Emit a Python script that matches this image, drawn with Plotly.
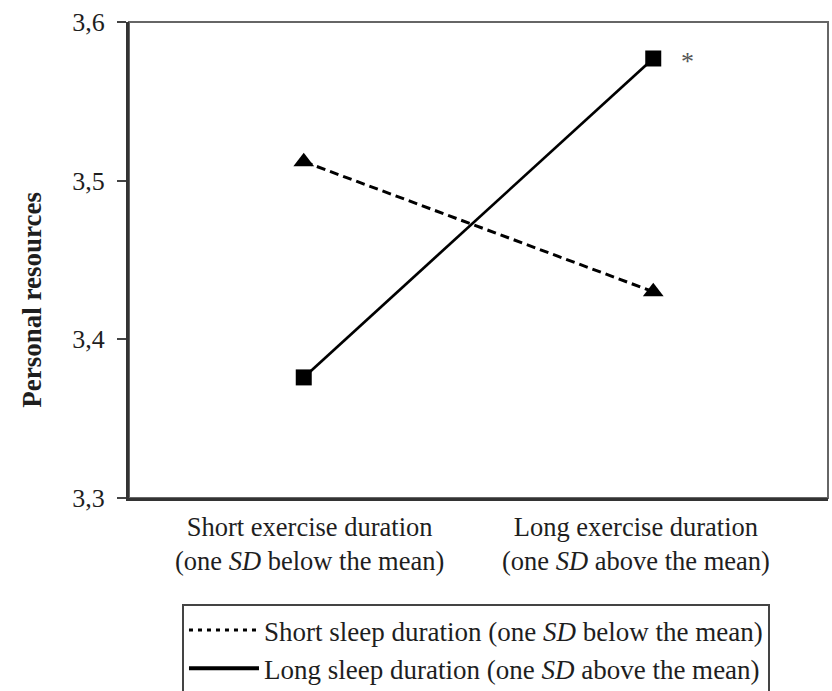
import plotly.graph_objects as go

# Exercise duration levels (x axis) and predicted personal resources per sleep group
exercise_levels = ["Short exercise duration", "Long exercise duration"]
exercise_labels = [
    "Short exercise duration<br>(one <i>SD</i> below the mean)",
    "Long exercise duration<br>(one <i>SD</i> above the mean)",
]
short_sleep = [3.512, 3.430]
long_sleep = [3.376, 3.577]
series_names = [
    "Short sleep duration (one <i>SD</i> below the mean)",
    "Long sleep duration (one <i>SD</i> above the mean)",
]
y_ticks = [3.3, 3.4, 3.5, 3.6]

FONT = "Liberation Serif, Times New Roman, serif"
INK = "#1e1e1e"

fig = go.Figure()

# Plotted lines with markers
fig.add_trace(go.Scatter(
    x=exercise_levels, y=short_sleep, mode="lines+markers",
    line=dict(color="black", width=3, dash="9px,5px"),
    marker=dict(symbol="triangle-up", size=18, color="black"),
    showlegend=False,
))
fig.add_trace(go.Scatter(
    x=exercise_levels, y=long_sleep, mode="lines+markers",
    line=dict(color="black", width=2.7),
    marker=dict(symbol="square", size=16, color="black"),
    showlegend=False,
))

# Legend entries (line samples only)
fig.add_trace(go.Scatter(
    x=[None], y=[None], mode="lines", name=series_names[0],
    line=dict(color="black", width=3, dash="4px,5px"),
))
fig.add_trace(go.Scatter(
    x=[None], y=[None], mode="lines", name=series_names[1],
    line=dict(color="black", width=4),
))

annotations = []
# Category labels under the x axis
for cat, lab, shift in zip(exercise_levels, exercise_labels, [6, -17]):
    annotations.append(dict(
        x=cat, xref="x", y=0, yref="paper", yanchor="top", yshift=-12,
        xshift=shift, text=lab, showarrow=False, align="center",
        font=dict(family=FONT, size=26.5, color=INK),
    ))
# Significance marker next to the long-exercise / long-sleep point
annotations.append(dict(
    x=exercise_levels[1], xref="x", y=long_sleep[1], yref="y",
    xshift=34, yshift=-3, text="*", showarrow=False,
    font=dict(family=FONT, size=26, color="#555"),
))
# Y axis title
annotations.append(dict(
    x=-0.139, xref="paper", y=0.416, yref="paper", textangle=-90,
    xanchor="center", yanchor="middle",
    text="<b>Personal resources</b>", showarrow=False,
    font=dict(family=FONT, size=27, color=INK),
))

fig.update_layout(
    width=832, height=691,
    margin=dict(l=129, r=4, t=22, b=193, autoexpand=False),
    paper_bgcolor="white", plot_bgcolor="white",
    separators=",.",
    font=dict(family=FONT, size=26, color=INK),
    xaxis=dict(
        type="category", categoryorder="array", categoryarray=exercise_levels,
        range=[-0.5, 1.5], showticklabels=False, ticks="",
        showgrid=False, zeroline=False,
        showline=True, linecolor="#333", linewidth=3,
    ),
    yaxis=dict(
        range=[3.3, 3.6], tickvals=y_ticks, tickformat=".1f",
        ticks="outside", ticklen=9, tickwidth=2, tickcolor="#444",
        ticklabelstandoff=7,
        tickfont=dict(family=FONT, size=26, color=INK),
        showgrid=False, zeroline=False,
        showline=True, linecolor="#333", linewidth=3,
    ),
    shapes=[dict(
        type="rect", xref="paper", yref="paper", x0=0, x1=1, y0=0, y1=1,
        line=dict(color="#666", width=2), layer="below",
    )],
    legend=dict(
        x=0.0758, y=-0.2227, xanchor="left", yanchor="top",
        bordercolor="#444", borderwidth=2, bgcolor="white",
        font=dict(family=FONT, size=27, color=INK),
        itemwidth=70, tracegroupgap=0,
    ),
    annotations=annotations,
)

fig.write_html("out.html")
